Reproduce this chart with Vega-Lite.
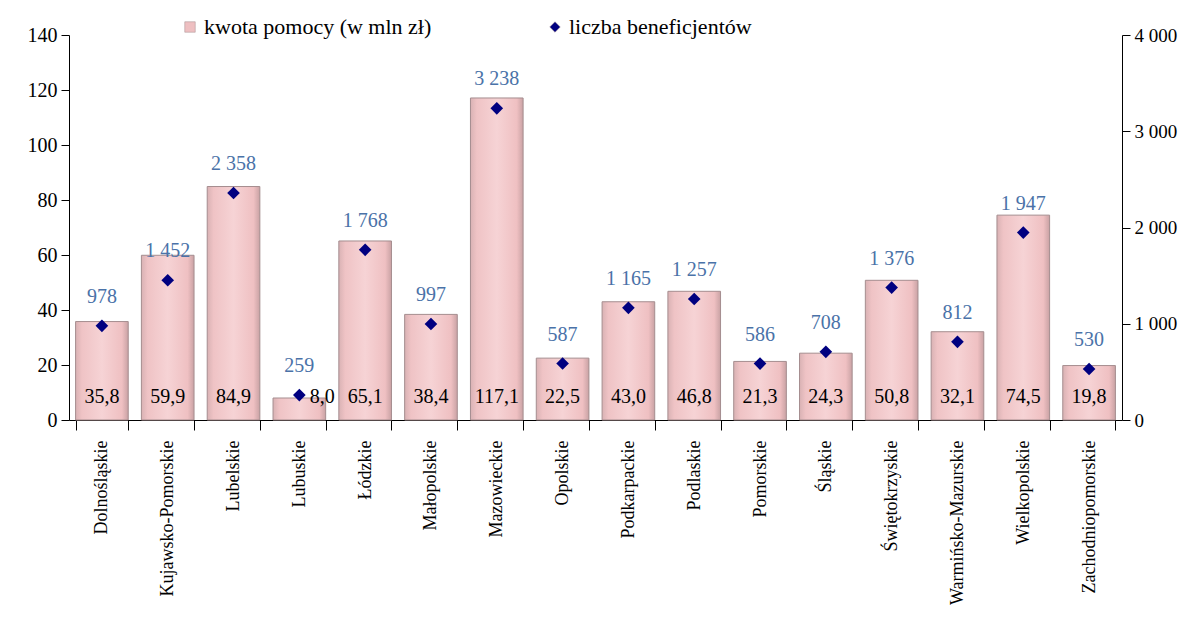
{
  "$schema": "https://vega.github.io/schema/vega-lite/v6.json",
  "width": 1053,
  "height": 385,
  "autosize": {"type": "none"},
  "padding": {"left": 69, "top": 35, "right": 80, "bottom": 203},
  "background": "white",
  "config": {
    "locale": {"number": {"decimal": ",", "thousands": " ", "grouping": [3], "currency": ["", ""]}},
    "font": "Liberation Serif",
    "view": {"stroke": null},
    "axis": {"labelFont": "Liberation Serif", "labelColor": "black", "domainColor": "black", "tickColor": "black", "grid": false, "title": null}
  },
  "data": {"values": [
    {"region": "Dolnośląskie", "kwota": 35.8, "liczba": 978},
    {"region": "Kujawsko-Pomorskie", "kwota": 59.9, "liczba": 1452},
    {"region": "Lubelskie", "kwota": 84.9, "liczba": 2358},
    {"region": "Lubuskie", "kwota": 8.0, "liczba": 259},
    {"region": "Łódzkie", "kwota": 65.1, "liczba": 1768},
    {"region": "Małopolskie", "kwota": 38.4, "liczba": 997},
    {"region": "Mazowieckie", "kwota": 117.1, "liczba": 3238},
    {"region": "Opolskie", "kwota": 22.5, "liczba": 587},
    {"region": "Podkarpackie", "kwota": 43.0, "liczba": 1165},
    {"region": "Podlaskie", "kwota": 46.8, "liczba": 1257},
    {"region": "Pomorskie", "kwota": 21.3, "liczba": 586},
    {"region": "Śląskie", "kwota": 24.3, "liczba": 708},
    {"region": "Świętokrzyskie", "kwota": 50.8, "liczba": 1376},
    {"region": "Warmińsko-Mazurskie", "kwota": 32.1, "liczba": 812},
    {"region": "Wielkopolskie", "kwota": 74.5, "liczba": 1947},
    {"region": "Zachodniopomorskie", "kwota": 19.8, "liczba": 530}
  ]},
  "encoding": {
    "x": {
      "field": "region", "type": "nominal", "sort": null,
      "scale": {"paddingInner": 0.2, "paddingOuter": 0.1},
      "axis": {"labelAngle": -90, "labelFontSize": 18, "labelPadding": 10, "labelLimit": 300, "tickBand": "extent", "tickSize": 10, "domainWidth": 1.2}
    }
  },
  "layer": [
    {
      "encoding": {
        "y": {
          "field": "kwota", "type": "quantitative",
          "scale": {"domain": [0, 140]},
          "axis": {"values": [0, 20, 40, 60, 80, 100, 120, 140], "labelFontSize": 20, "tickSize": 8, "labelPadding": 4}
        }
      },
      "layer": [
        {
          "mark": {
            "type": "bar",
            "fill": {"gradient": "linear", "x1": 0, "x2": 1, "y1": 0, "y2": 0,
              "stops": [
                {"offset": 0, "color": "#d9b2b4"},
                {"offset": 0.12, "color": "#efc3c5"},
                {"offset": 0.5, "color": "#f6d3d5"},
                {"offset": 0.88, "color": "#efc0c2"},
                {"offset": 1, "color": "#c9a2a4"}
              ]},
            "stroke": "#a58d8f",
            "strokeWidth": 1
          }
        },
        {
          "transform": [{"filter": "datum.kwota >= 10"}],
          "mark": {"type": "text", "baseline": "middle", "dy": -23, "fontSize": 20, "color": "black", "font": "Liberation Serif"},
          "encoding": {
            "y": {"datum": 0, "type": "quantitative"},
            "text": {"field": "kwota", "type": "quantitative", "format": ".1f"}
          }
        },
        {
          "transform": [{"filter": "datum.kwota < 10"}],
          "mark": {"type": "text", "baseline": "middle", "dx": 23, "dy": -23, "fontSize": 20, "color": "black", "font": "Liberation Serif"},
          "encoding": {
            "y": {"datum": 0, "type": "quantitative"},
            "text": {"field": "kwota", "type": "quantitative", "format": ".1f"}
          }
        }
      ]
    },
    {
      "encoding": {
        "y": {
          "field": "liczba", "type": "quantitative",
          "scale": {"domain": [0, 4000]},
          "axis": {"orient": "right", "values": [0, 1000, 2000, 3000, 4000], "labelExpr": "datum.value == 0 ? '0' : format(datum.value / 1000, 'd') + ' 000'", "labelFontSize": 19, "tickSize": 8, "labelPadding": 4}
        }
      },
      "layer": [
        {
          "mark": {"type": "point", "filled": true, "size": 160, "opacity": 1},
          "encoding": {
            "color": {
              "datum": "liczba beneficjentów",
              "scale": {"domain": ["kwota pomocy (w mln zł)", "liczba beneficjentów"], "range": ["#eebfc1", "#000080"]},
              "legend": {
                "orient": "none", "legendX": 110, "legendY": -19, "direction": "horizontal", "title": null,
                "labelFontSize": 22, "labelFont": "Liberation Serif", "labelLimit": 400, "columnPadding": 112, "symbolSize": 110,
                "symbolStrokeColor": "#a58d8f", "symbolStrokeWidth": 0.5, "labelOffset": 3
              }
            },
            "shape": {
              "datum": "liczba beneficjentów",
              "scale": {"domain": ["kwota pomocy (w mln zł)", "liczba beneficjentów"], "range": ["square", "diamond"]},
              "legend": {
                "orient": "none", "legendX": 110, "legendY": -19, "direction": "horizontal", "title": null,
                "labelFontSize": 22, "labelFont": "Liberation Serif", "labelLimit": 400, "columnPadding": 112, "symbolSize": 110,
                "symbolStrokeColor": "#a58d8f", "symbolStrokeWidth": 0.5, "labelOffset": 3
              }
            }
          }
        },
        {
          "mark": {"type": "text", "baseline": "middle", "dy": -29, "fontSize": 20, "color": "#4a72a8", "font": "Liberation Serif"},
          "encoding": {
            "text": {"field": "liczba", "type": "quantitative", "format": ","}
          }
        }
      ]
    }
  ],
  "resolve": {"scale": {"y": "independent"}}
}
